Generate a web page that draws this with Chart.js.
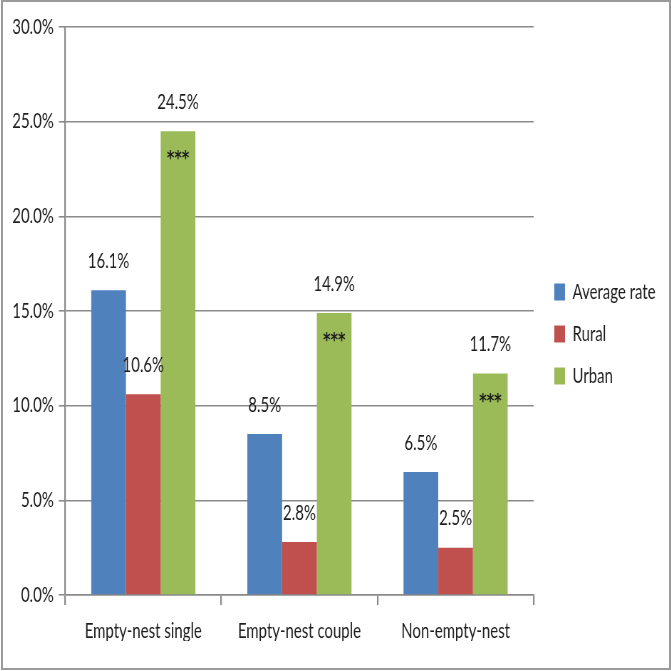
<!DOCTYPE html>
<html>
<head>
<meta charset="utf-8">
<script src="https://cdn.jsdelivr.net/npm/chart.js@4/dist/chart.umd.min.js"></script>
<style>
    html, body { margin: 0; padding: 0; background: #fff; }
    #frame {
        position: absolute; left: 1px; top: 0px;
        width: 666px; height: 666px;
        border: 2px solid #9a9a9a;
        background: #fff;
    }
    /* the original picture is squeezed sideways, so the canvas is drawn
       wider than it is shown */
    #frame canvas { display: block; width: 666px; height: 666px; }
</style>
</head>
<body>
<div id="frame"><canvas id="rateChart" width="935" height="666" style="width:666px;height:666px"></canvas></div>
<script>
// Chart data
const groups = ['Empty-nest single', 'Empty-nest couple', 'Non-empty-nest'];
const averageRate = [16.1, 8.5, 6.5];
const ruralRate = [10.6, 2.8, 2.5];
const urbanRate = [24.5, 14.9, 11.7];
const urbanMarks = ['***', '***', '***'];

const fontName = 'Lato, "Open Sans", sans-serif';
const inkColor = '#1e1e1e';
const lineColor = '#8a8a8a';

// draws the % values above every bar and the *** inside the urban bars
const valueLabels = {
    id: 'valueLabels',
    afterDatasetsDraw(chart) {
        const ctx = chart.ctx;
        ctx.save();
        ctx.fillStyle = inkColor;
        ctx.textAlign = 'center';
        ctx.textBaseline = 'middle';
        chart.data.datasets.forEach((ds, i) => {
            const meta = chart.getDatasetMeta(i);
            meta.data.forEach((bar, j) => {
                ctx.font = '21px ' + fontName;
                ctx.fillText(ds.data[j].toFixed(1) + '%', bar.x, bar.y - 29);
                if (ds.marks) {
                    ctx.font = 'bold 20px "DejaVu Sans", sans-serif';
                    ctx.fillText(ds.marks[j], bar.x, bar.y + 28);
                }
            });
        });
        ctx.restore();
    }
};

const ctx = document.getElementById('rateChart').getContext('2d');
new Chart(ctx, {
    type: 'bar',
    data: {
        labels: groups,
        datasets: [
            { label: 'Average rate', data: averageRate, backgroundColor: '#4f81bd' },
            { label: 'Rural', data: ruralRate, backgroundColor: '#c0504d' },
            { label: 'Urban', data: urbanRate, backgroundColor: '#9bbb59', marks: urbanMarks }
        ]
    },
    options: {
        responsive: false,
        animation: false,
        layout: {
            padding: { top: 25, left: 6, right: 9, bottom: 27 }
        },
        datasets: {
            bar: { categoryPercentage: 0.667, barPercentage: 1.0 }
        },
        plugins: {
            legend: {
                position: 'right',
                align: 'center',
                labels: {
                    font: { family: fontName, size: 21 },
                    color: inkColor,
                    boxWidth: 15,
                    boxHeight: 17,
                    padding: 21
                }
            },
            tooltip: { enabled: false }
        },
        scales: {
            y: {
                min: 0,
                max: 30,
                ticks: {
                    stepSize: 5,
                    padding: 7,
                    color: inkColor,
                    font: { family: fontName, size: 21 },
                    callback: function(value) {
                        return value.toFixed(1) + '%';
                    }
                },
                grid: {
                    color: lineColor,
                    lineWidth: 1.6,
                    tickLength: 9
                },
                border: { color: lineColor, width: 2.2 }
            },
            // hidden strip between the plot and the legend
            gap: {
                position: 'right',
                display: false,
                afterFit: function(scale) { scale.width = 8; }
            },
            x: {
                ticks: {
                    padding: 14,
                    maxRotation: 0,
                    autoSkip: false,
                    color: inkColor,
                    font: { family: fontName, size: 21 }
                },
                grid: {
                    offset: true,
                    drawOnChartArea: false,
                    color: lineColor,
                    lineWidth: 2.2,
                    tickLength: 10
                },
                border: { color: lineColor, width: 1.6 },
                afterFit: function(scale) { scale.height = 46; }
            }
        }
    },
    plugins: [valueLabels]
});
</script>
</body>
</html>
